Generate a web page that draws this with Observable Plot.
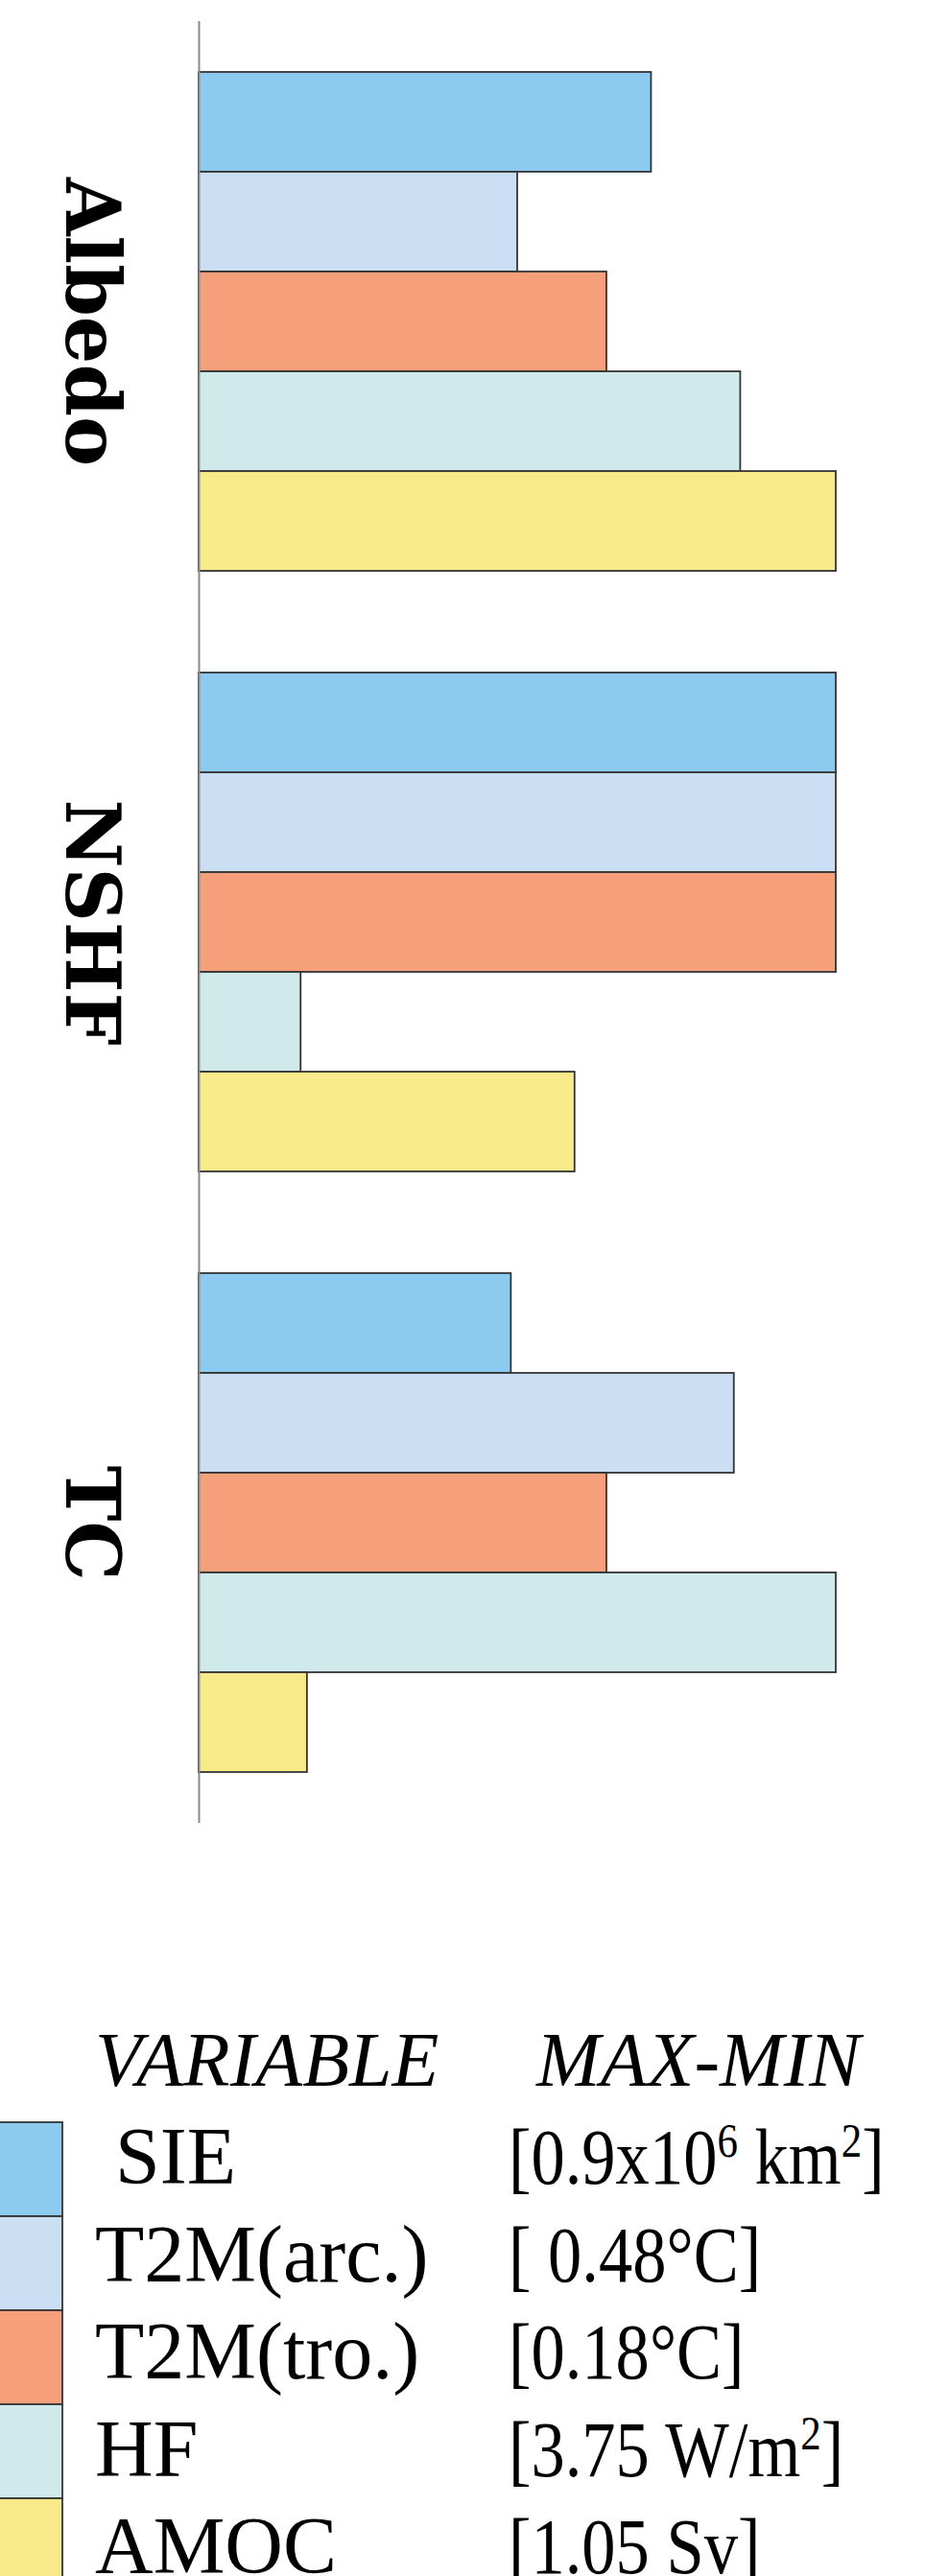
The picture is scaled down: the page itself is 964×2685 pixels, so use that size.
<!DOCTYPE html>
<html>
<head>
<meta charset="utf-8">
<script src="https://cdn.jsdelivr.net/npm/d3@7"></script>
<script src="https://cdn.jsdelivr.net/npm/@observablehq/plot@0.6"></script>
<style>
  html, body { margin: 0; padding: 0; background: white; }
  #wrap { position: relative; width: 964px; height: 2685px; overflow: hidden; }
  #chart { position: absolute; left: 0; top: 0; }
  #legend { position: absolute; left: 0; top: 2050px; }
</style>
</head>
<body>
<div id="wrap">
  <div id="chart"></div>
  <svg id="legend" width="964" height="635"></svg>
</div>
<script>
// ---- data ----
const groups = ["Albedo", "NSHF", "TC"];
const variables = ["SIE", "T2M(arc.)", "T2M(tro.)", "HF", "AMOC"];
const colors = ["#8ccbef", "#cadff3", "#f5a07b", "#d0eaec", "#f8e98a"];
const albedoValues = [0.71, 0.50, 0.64, 0.85, 1.00];
const nshfValues   = [1.00, 1.00, 1.00, 0.16, 0.59];
const tcValues     = [0.49, 0.84, 0.64, 1.00, 0.17];
const legendLabels = [" SIE", "T2M(arc.)", "T2M(tro.)", "HF", "AMOC"];
const legendRanges = ["[0.9x10^6 km^2]", "[ 0.48°C]", "[0.18°C]", "[3.75 W/m^2]", "[1.05 Sv]"];
const legendHeaders = ["VARIABLE", "MAX-MIN"];

// ---- table for the library ----
const seriesByGroup = [albedoValues, nshfValues, tcValues];
const data = groups.flatMap((g, gi) =>
  variables.map((v, vi) => ({group: g, variable: v, value: seriesByGroup[gi][vi]}))
);

const chart = Plot.plot({
  width: 964,
  height: 1925,
  marginLeft: 207,
  marginRight: 93,
  marginTop: 26,
  marginBottom: 30,
  style: {background: "white", overflow: "visible"},
  facet: {data, y: "group"},
  fy: {domain: groups, paddingInner: 0.163, paddingOuter: 0.0743, axis: null, label: null},
  x: {domain: [0, 1], axis: null},
  y: {domain: variables, padding: 0, axis: null},
  color: {domain: variables, range: colors},
  marks: [
    Plot.barX(data, {x: "value", y: "variable", fill: "variable", stroke: "#333333", strokeWidth: 1.8}),
    Plot.ruleX([0], {stroke: "#8a8a8a", strokeWidth: 2, insetTop: -51, insetBottom: -51}),
    Plot.text(data, {
      filter: d => d.variable === variables[0],
      text: "group",
      frameAnchor: "left",
      textAnchor: "middle",
      lineAnchor: "middle",
      dx: -114,
      rotate: 90,
      fontSize: 78,
      fontWeight: "bold",
      fontFamily: "DejaVu Serif",
      fill: "black"
    })
  ]
});
document.getElementById("chart").appendChild(chart);

// ---- legend below the chart ----
const lg = d3.select("#legend");
const font = "'Liberation Serif', 'Times New Roman', serif";
lg.selectAll("text.hdr").data(legendHeaders).join("text")
  .attr("class", "hdr")
  .attr("x", (d, i) => i === 0 ? 99 : 559)
  .attr("y", 124)
  .attr("font-family", font)
  .attr("font-style", "italic")
  .attr("font-size", 80)
  .text(d => d);

lg.selectAll("rect.sw").data(variables).join("rect")
  .attr("class", "sw")
  .attr("x", -10)
  .attr("y", (d, i) => 162 + i * 98)
  .attr("width", 75)
  .attr("height", 98)
  .attr("fill", (d, i) => colors[i])
  .attr("stroke", "#333333")
  .attr("stroke-width", 1.8);

lg.selectAll("text.lab").data(legendLabels).join("text")
  .attr("class", "lab")
  .attr("x", 99)
  .attr("y", (d, i) => 226 + i * 101.5)
  .attr("font-family", font)
  .attr("font-size", 84)
  .style("white-space", "pre")
  .text(d => d);

const rng = lg.selectAll("text.rng").data(legendRanges).join("text")
  .attr("class", "rng")
  .attr("transform", (d, i) => `translate(530,${226 + i * 101.5}) scale(0.86,1)`)
  .attr("font-family", font)
  .attr("font-size", 82)
  .style("white-space", "pre");
rng.each(function(d) {
  const t = d3.select(this);
  const parts = d.split(/\^(\d)/);
  parts.forEach((p, k) => {
    if (k % 2 === 0) {
      if (p) t.append("tspan").text(p);
    } else {
      t.append("tspan").attr("font-size", 50).attr("baseline-shift", "55%").text(p);
    }
  });
});
</script>
</body>
</html>
